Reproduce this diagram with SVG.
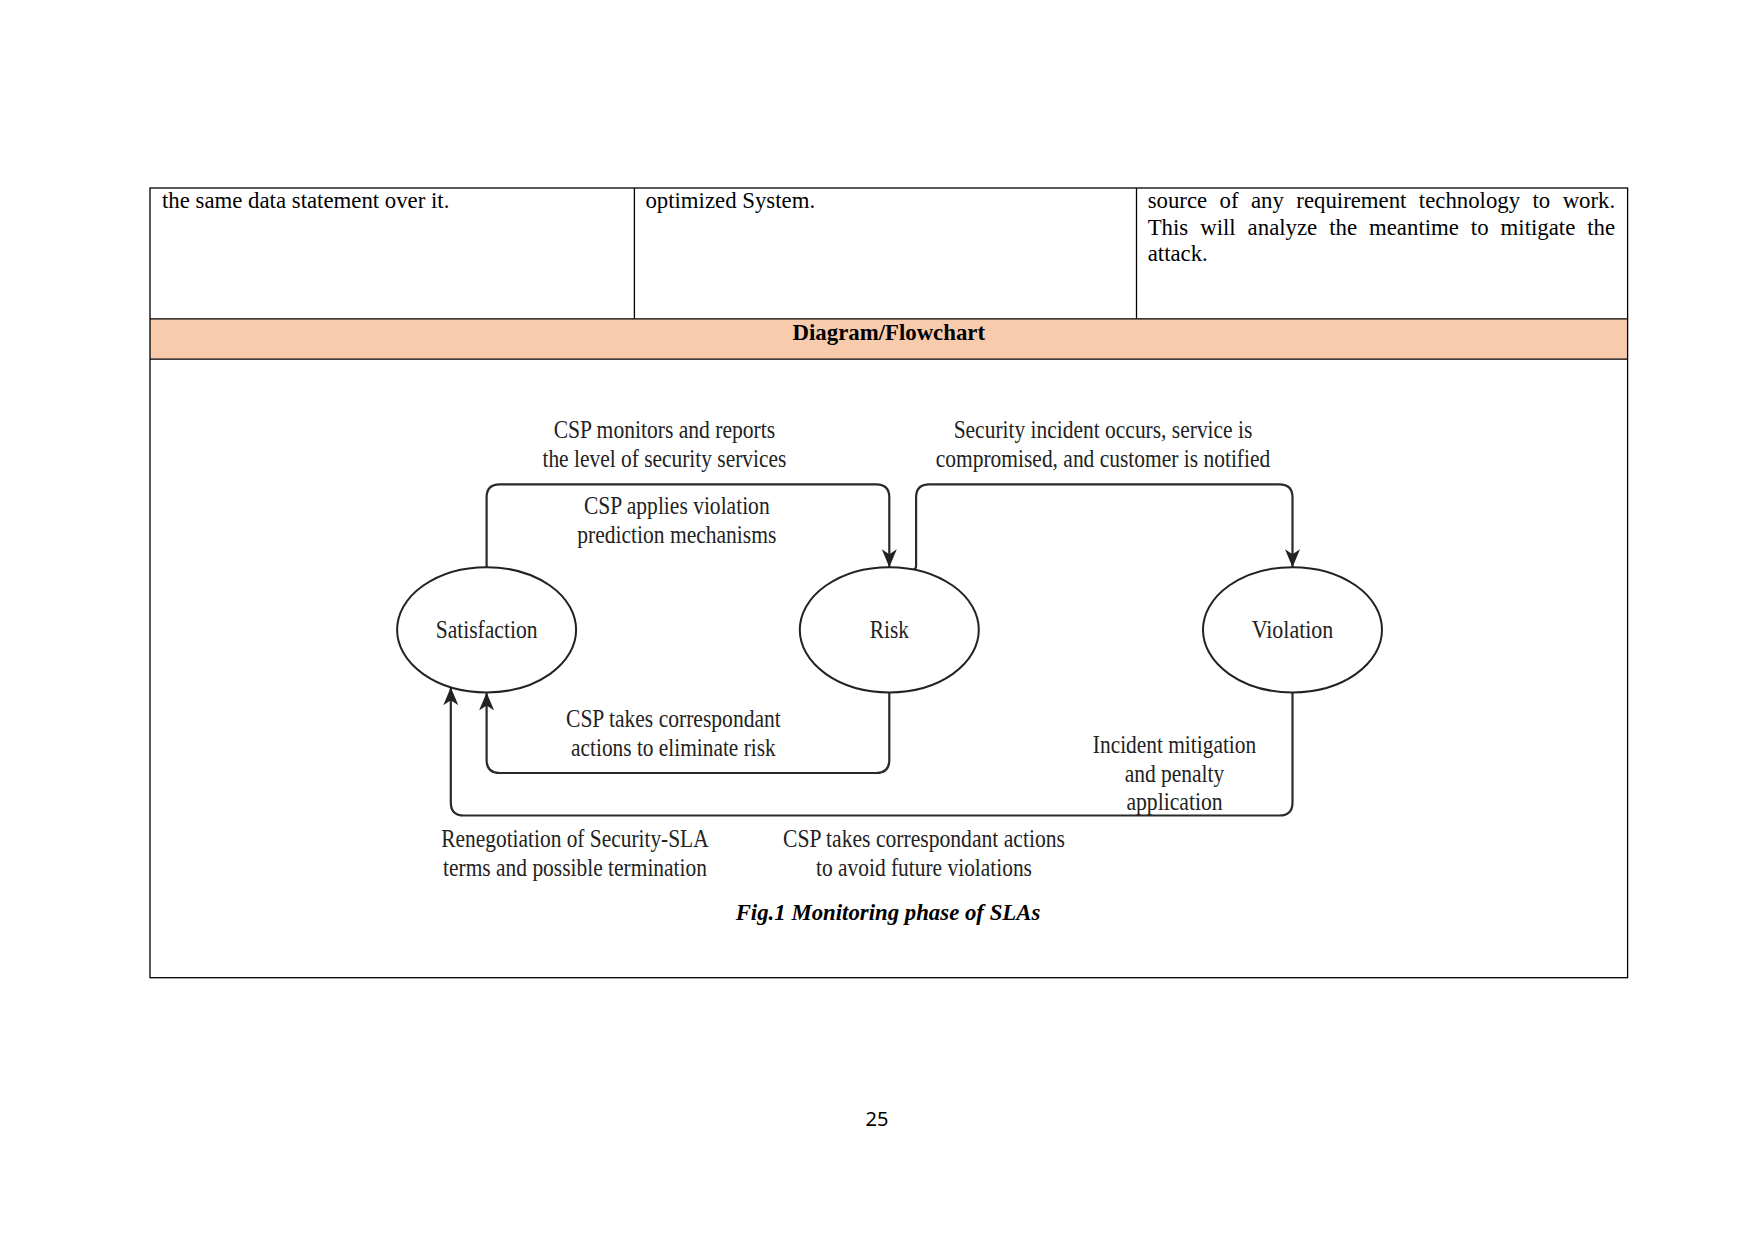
<svg xmlns="http://www.w3.org/2000/svg" width="1754" height="1241" viewBox="0 0 1754 1241">
<style>
.tb{font-family:"Liberation Serif","Times New Roman",serif;font-size:22.8px;fill:#000}
.hd{font-family:"Liberation Serif","Times New Roman",serif;font-size:22.8px;font-weight:bold;fill:#000}
.lb{font-family:"Liberation Serif","Times New Roman",serif;font-size:25px;fill:#222}
.cap{font-family:"Liberation Serif","Times New Roman",serif;font-size:22.8px;font-weight:bold;font-style:italic;fill:#000}
.pg{font-family:"Noto Sans","Liberation Sans",sans-serif;font-size:20px;fill:#000}
.grid{stroke:#000;stroke-width:1.3;fill:none}
.node{fill:#fff;stroke:#222;stroke-width:2}
.conn{fill:none;stroke:#2a2a2a;stroke-width:2.2}
</style>
<defs>
<marker id="arr" markerUnits="userSpaceOnUse" markerWidth="19" markerHeight="16" refX="18" refY="7.5" orient="auto">
<path d="M0,0 L18,7.5 L0,15 L5,7.5 z" fill="#222"/>
</marker>
</defs>
<rect width="1754" height="1241" fill="#fff"/>
<g id="table">
<rect x="150" y="318.8" width="1477.6" height="40.3" fill="#F8CBAD"/>
<rect class="grid" x="150" y="188" width="1477.6" height="789.7"/>
<line class="grid" x1="150" y1="318.8" x2="1627.6" y2="318.8"/>
<line class="grid" x1="150" y1="359.1" x2="1627.6" y2="359.1"/>
<line class="grid" x1="634.4" y1="188" x2="634.4" y2="318.8"/>
<line class="grid" x1="1136.5" y1="188" x2="1136.5" y2="318.8"/>
<text class="tb" x="162" y="208">the same data statement over it.</text>
<text class="tb" x="645.4" y="208">optimized System.</text>
<text class="tb" x="1147.7" y="208" word-spacing="6.7">source of any requirement technology to work.</text>
<text class="tb" x="1147.7" y="235" word-spacing="6.27">This will analyze the meantime to mitigate the</text>
<text class="tb" x="1147.7" y="261">attack.</text>
<text class="hd" x="888.8" y="340" text-anchor="middle">Diagram/Flowchart</text>
</g>
<g id="connectors">
<path class="conn" d="M486.6,567.2 V497.4 Q486.6,484.4 499.6,484.4 H876.3 Q889.3,484.4 889.3,497.4 V567.2" marker-end="url(#arr)"/>
<path class="conn" d="M912.8,569.8 Q916.1,569.5 916.1,565.5 V497.4 Q916.1,484.4 929.1,484.4 H1279.5 Q1292.5,484.4 1292.5,497.4 V567.2" marker-end="url(#arr)"/>
<path class="conn" d="M889.3,692.4 V760 Q889.3,773 876.3,773 H499.6 Q486.6,773 486.6,760 V692.4" marker-end="url(#arr)"/>
<path class="conn" d="M1292.5,692.4 V802.5 Q1292.5,815.5 1279.5,815.5 H463.8 Q450.8,815.5 450.8,802.5 V687.2" marker-end="url(#arr)"/>
</g>
<g id="node-satisfaction">
<ellipse class="node" cx="486.6" cy="629.8" rx="89.5" ry="62.6"/>
<text class="lb" x="486.6" y="638" text-anchor="middle" textLength="101.8" lengthAdjust="spacingAndGlyphs">Satisfaction</text>
</g>
<g id="node-risk">
<ellipse class="node" cx="889.3" cy="629.8" rx="89.5" ry="62.6"/>
<text class="lb" x="889.3" y="638" text-anchor="middle" textLength="39.2" lengthAdjust="spacingAndGlyphs">Risk</text>
</g>
<g id="node-violation">
<ellipse class="node" cx="1292.5" cy="629.8" rx="89.5" ry="62.6"/>
<text class="lb" x="1292.5" y="638" text-anchor="middle" textLength="81.7" lengthAdjust="spacingAndGlyphs">Violation</text>
</g>
<g id="labels">
<text class="lb" x="664.4" y="437.5" text-anchor="middle" textLength="221.5" lengthAdjust="spacingAndGlyphs">CSP monitors and reports</text>
<text class="lb" x="664.4" y="466.6" text-anchor="middle" textLength="243.9" lengthAdjust="spacingAndGlyphs">the level of security services</text>
<text class="lb" x="676.8" y="513.6" text-anchor="middle" textLength="185.7" lengthAdjust="spacingAndGlyphs">CSP applies violation</text>
<text class="lb" x="676.8" y="542.7" text-anchor="middle" textLength="199.1" lengthAdjust="spacingAndGlyphs">prediction mechanisms</text>
<text class="lb" x="1103" y="437.5" text-anchor="middle" textLength="298.7" lengthAdjust="spacingAndGlyphs">Security incident occurs, service is</text>
<text class="lb" x="1103" y="466.6" text-anchor="middle" textLength="334.5" lengthAdjust="spacingAndGlyphs">compromised, and customer is notified</text>
<text class="lb" x="673.4" y="727.3" text-anchor="middle" textLength="214.8" lengthAdjust="spacingAndGlyphs">CSP takes correspondant</text>
<text class="lb" x="673.4" y="756.3" text-anchor="middle" textLength="204.7" lengthAdjust="spacingAndGlyphs">actions to eliminate risk</text>
<text class="lb" x="1174.5" y="753" text-anchor="middle" textLength="163.3" lengthAdjust="spacingAndGlyphs">Incident mitigation</text>
<text class="lb" x="1174.5" y="782" text-anchor="middle" textLength="99.6" lengthAdjust="spacingAndGlyphs">and penalty</text>
<text class="lb" x="1174.5" y="810" text-anchor="middle" textLength="96.2" lengthAdjust="spacingAndGlyphs">application</text>
<text class="lb" x="575" y="847" text-anchor="middle" textLength="267.3" lengthAdjust="spacingAndGlyphs">Renegotiation of Security-SLA</text>
<text class="lb" x="575" y="876" text-anchor="middle" textLength="264" lengthAdjust="spacingAndGlyphs">terms and possible termination</text>
<text class="lb" x="924" y="847" text-anchor="middle" textLength="281.9" lengthAdjust="spacingAndGlyphs">CSP takes correspondant actions</text>
<text class="lb" x="924" y="876" text-anchor="middle" textLength="215.9" lengthAdjust="spacingAndGlyphs">to avoid future violations</text>
<text class="cap" x="888" y="919.5" text-anchor="middle">Fig.1 Monitoring phase of SLAs</text>
</g>
<text class="pg" x="877" y="1126" text-anchor="middle">25</text>
</svg>
